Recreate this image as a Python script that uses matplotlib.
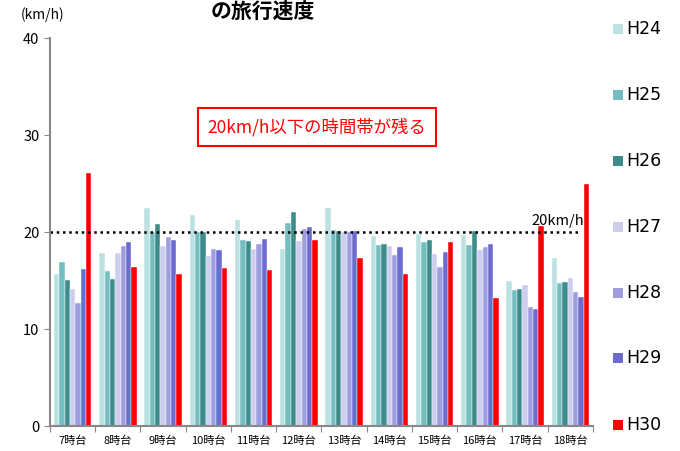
import numpy as np
import matplotlib
matplotlib.use("Agg")
import matplotlib.pyplot as plt

plt.rcParams['font.family'] = ['Noto Sans CJK JP', 'DejaVu Sans']

hours = ['7時台', '8時台', '9時台', '10時台', '11時台', '12時台',
         '13時台', '14時台', '15時台', '16時台', '17時台', '18時台']
years = ['H24', 'H25', 'H26', 'H27', 'H28', 'H29', 'H30']
colors = ['#bce1e3', '#74bec2', '#3e8b8b', '#cdcdee', '#9d9de0', '#6c6cd0', '#ff0000']

h24 = [15.7, 17.8, 22.5, 21.8, 21.2, 18.3, 22.5, 19.6, 19.8, 19.7, 15.0, 17.3]
h25 = [16.9, 16.0, 20.0, 20.0, 19.2, 20.9, 20.2, 18.7, 19.0, 18.7, 14.0, 14.7]
h26 = [15.1, 15.2, 20.8, 20.0, 19.1, 22.1, 20.1, 18.8, 19.2, 20.1, 14.1, 14.8]
h27 = [14.1, 17.8, 18.6, 17.5, 18.3, 19.1, 20.0, 18.6, 17.7, 18.1, 14.5, 15.3]
h28 = [12.7, 18.6, 19.5, 18.2, 18.8, 20.3, 20.0, 17.6, 16.4, 18.5, 12.3, 13.8]
h29 = [16.2, 19.0, 19.2, 18.1, 19.3, 20.5, 20.1, 18.5, 17.9, 18.8, 12.1, 13.3]
h30 = [26.1, 16.4, 15.7, 16.3, 16.1, 19.2, 17.3, 15.7, 19.0, 13.2, 20.6, 24.9]
series = [h24, h25, h26, h27, h28, h29, h30]

fig = plt.figure(figsize=(6.8, 4.51), dpi=100)
ax = fig.add_axes([0.0735, 0.0554, 0.7985, 0.8603])

x = np.arange(len(hours))
w = 0.118
for i, (vals, c, lab) in enumerate(zip(series, colors, years)):
    ax.bar(x + (i - 3) * w, vals, w, color=c, label=lab,
           edgecolor='white', linewidth=0.3)

ax.plot([-0.5, 11.2], [20, 20], color='black', linestyle=(0, (1, 1.5)), linewidth=1.8)
ax.text(10.72, 21.1, '20km/h', ha='center', va='center', fontsize=10.5)

ax.text(5.4, 30.8, '20km/h以下の時間帯が残る', ha='center', va='center',
        fontsize=12.5, color='#ff0000',
        bbox=dict(boxstyle='square,pad=0.55', facecolor='white', edgecolor='#ff0000', linewidth=1.5))

ax.set_xlim(-0.5, 11.5)
ax.set_ylim(0, 40)
ax.set_yticks([0, 10, 20, 30, 40])
ax.tick_params(axis='y', labelsize=10.5, length=4, color='#888888', direction='out')
ax.set_xticks(np.arange(-0.5, 12, 1))
ax.set_xticklabels([])
ax.set_xticks(x, minor=True)
ax.set_xticklabels(hours, minor=True, fontsize=8)
ax.tick_params(axis='x', which='major', length=4, color='#888888', direction='out')
ax.tick_params(axis='x', which='minor', length=0, pad=7)

for s in ['top', 'right']:
    ax.spines[s].set_visible(False)
for s in ['left', 'bottom']:
    ax.spines[s].set_color('#888888')
    ax.spines[s].set_linewidth(1.5)

fig.text(0.063, 0.968, '(km/h)', ha='center', va='center', fontsize=10)
fig.text(0.387, 0.999, 'の旅行速度', ha='center', va='top', fontsize=15, fontweight='bold')

# legend on the right, spread down the full height
ys = [29, 95, 161, 227, 293, 358, 425]
for lab, c, yp in zip(years, colors, ys):
    fig.patches.append(plt.Rectangle((613 / 680, 1 - (yp + 5) / 451), 10 / 680, 10 / 451,
                                     transform=fig.transFigure, facecolor=c, edgecolor='none'))
    fig.text(626 / 680, 1 - yp / 451, lab, ha='left', va='center', fontsize=12.5,
             family='DejaVu Sans')

fig.savefig('out.png', dpi=100)
